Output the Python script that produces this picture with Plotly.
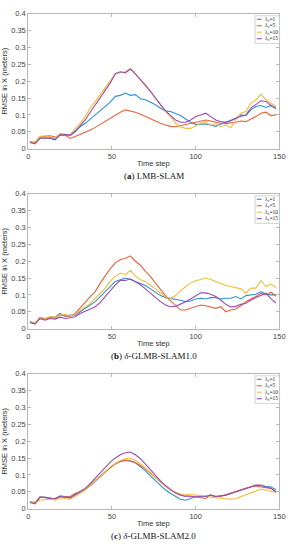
import plotly.graph_objects as go

steps = [1, 4, 7, 10, 13, 16, 19, 22, 25, 28, 31, 34, 37, 40, 43, 46, 49, 52, 55, 58,
         61, 64, 67, 70, 73, 76, 79, 82, 85, 88, 91, 94, 97, 100, 103, 106, 109, 112, 115, 118,
         121, 124, 127, 130, 133, 136, 139, 142, 145, 148]

labels = ["λ<sub>c</sub>=1", "λ<sub>c</sub>=5", "λ<sub>c</sub>=10", "λ<sub>c</sub>=15"]
colors = ["#2f8fd6", "#e8623a", "#f0bd3c", "#9a4cb0"]

# Panel (a) LMB-SLAM
a_l1 = [0.020, 0.018, 0.032, 0.030, 0.033, 0.028, 0.042, 0.040, 0.038, 0.050, 0.065, 0.075, 0.088, 0.100, 0.112, 0.125, 0.138, 0.155, 0.158, 0.165,
        0.158, 0.160, 0.148, 0.145, 0.138, 0.130, 0.120, 0.112, 0.110, 0.105, 0.098, 0.088, 0.078, 0.072, 0.072, 0.073, 0.070, 0.066, 0.072, 0.078,
        0.082, 0.090, 0.100, 0.098, 0.115, 0.125, 0.128, 0.122, 0.128, 0.118]
a_l5 = [0.020, 0.016, 0.035, 0.036, 0.038, 0.034, 0.040, 0.040, 0.030, 0.036, 0.042, 0.048, 0.055, 0.063, 0.072, 0.082, 0.092, 0.100, 0.108, 0.115,
        0.112, 0.108, 0.102, 0.095, 0.088, 0.082, 0.075, 0.070, 0.066, 0.065, 0.068, 0.072, 0.075, 0.078, 0.080, 0.085, 0.082, 0.078, 0.075, 0.074,
        0.075, 0.078, 0.082, 0.080, 0.088, 0.095, 0.105, 0.108, 0.098, 0.100]
a_l10 = [0.018, 0.020, 0.036, 0.038, 0.035, 0.032, 0.045, 0.042, 0.040, 0.060, 0.075, 0.095, 0.120, 0.140, 0.160, 0.180, 0.200, 0.222, 0.225, 0.228,
         0.238, 0.220, 0.205, 0.190, 0.170, 0.150, 0.130, 0.110, 0.095, 0.075, 0.065, 0.060, 0.060, 0.068, 0.075, 0.080, 0.068, 0.075, 0.065, 0.070,
         0.062, 0.085, 0.105, 0.110, 0.135, 0.145, 0.162, 0.145, 0.135, 0.125]
a_l15 = [0.018, 0.014, 0.030, 0.032, 0.030, 0.026, 0.040, 0.042, 0.040, 0.052, 0.068, 0.085, 0.108, 0.130, 0.150, 0.172, 0.195, 0.222, 0.228, 0.225,
         0.236, 0.222, 0.205, 0.190, 0.170, 0.150, 0.130, 0.112, 0.098, 0.085, 0.078, 0.078, 0.085, 0.095, 0.100, 0.105, 0.095, 0.085, 0.080, 0.078,
         0.082, 0.090, 0.095, 0.100, 0.120, 0.132, 0.142, 0.140, 0.128, 0.120]

# Panel (b) delta-GLMB-SLAM1.0
b_l1 = [0.020, 0.015, 0.033, 0.030, 0.032, 0.034, 0.045, 0.036, 0.040, 0.040, 0.050, 0.060, 0.068, 0.080, 0.095, 0.110, 0.125, 0.140, 0.145, 0.150,
        0.146, 0.140, 0.135, 0.128, 0.118, 0.108, 0.098, 0.092, 0.090, 0.088, 0.084, 0.080, 0.082, 0.088, 0.090, 0.088, 0.092, 0.092, 0.088, 0.090,
        0.090, 0.095, 0.088, 0.098, 0.100, 0.102, 0.110, 0.102, 0.100, 0.100]
b_l5 = [0.020, 0.014, 0.030, 0.028, 0.034, 0.030, 0.040, 0.038, 0.036, 0.045, 0.060, 0.078, 0.095, 0.110, 0.135, 0.158, 0.178, 0.195, 0.205, 0.208,
        0.216, 0.200, 0.188, 0.170, 0.155, 0.135, 0.115, 0.098, 0.082, 0.068, 0.055, 0.055, 0.060, 0.065, 0.070, 0.068, 0.065, 0.060, 0.065, 0.050,
        0.055, 0.058, 0.068, 0.080, 0.088, 0.095, 0.105, 0.100, 0.108, 0.096]
b_l10 = [0.018, 0.016, 0.034, 0.030, 0.036, 0.034, 0.040, 0.042, 0.038, 0.042, 0.055, 0.065, 0.075, 0.090, 0.105, 0.120, 0.140, 0.155, 0.165, 0.160,
         0.173, 0.155, 0.145, 0.140, 0.128, 0.118, 0.105, 0.095, 0.090, 0.098, 0.112, 0.125, 0.135, 0.142, 0.146, 0.150, 0.146, 0.140, 0.135, 0.128,
         0.125, 0.122, 0.118, 0.105, 0.120, 0.120, 0.142, 0.125, 0.132, 0.122]
b_l15 = [0.018, 0.014, 0.030, 0.025, 0.030, 0.028, 0.034, 0.030, 0.032, 0.035, 0.045, 0.052, 0.058, 0.065, 0.078, 0.095, 0.112, 0.130, 0.143, 0.143,
         0.148, 0.140, 0.130, 0.118, 0.105, 0.092, 0.080, 0.070, 0.065, 0.066, 0.072, 0.080, 0.088, 0.098, 0.106, 0.106, 0.102, 0.095, 0.085, 0.072,
         0.064, 0.066, 0.072, 0.075, 0.085, 0.092, 0.098, 0.105, 0.088, 0.076]

# Panel (c) delta-GLMB-SLAM2.0
c_l1 = [0.020, 0.018, 0.035, 0.032, 0.030, 0.030, 0.038, 0.036, 0.034, 0.040, 0.048, 0.057, 0.068, 0.080, 0.094, 0.108, 0.122, 0.132, 0.140, 0.144,
        0.142, 0.136, 0.125, 0.112, 0.097, 0.082, 0.068, 0.055, 0.045, 0.036, 0.028, 0.025, 0.030, 0.035, 0.035, 0.036, 0.040, 0.036, 0.037, 0.040,
        0.045, 0.050, 0.055, 0.060, 0.066, 0.069, 0.068, 0.066, 0.064, 0.056]
c_l5 = [0.020, 0.016, 0.034, 0.033, 0.032, 0.028, 0.035, 0.034, 0.036, 0.045, 0.050, 0.058, 0.070, 0.083, 0.097, 0.110, 0.123, 0.134, 0.140, 0.143,
        0.141, 0.136, 0.128, 0.118, 0.105, 0.092, 0.078, 0.066, 0.055, 0.047, 0.042, 0.040, 0.038, 0.035, 0.034, 0.030, 0.040, 0.036, 0.037, 0.040,
        0.046, 0.050, 0.055, 0.060, 0.065, 0.067, 0.064, 0.062, 0.060, 0.050]
c_l10 = [0.018, 0.020, 0.025, 0.026, 0.028, 0.025, 0.032, 0.030, 0.028, 0.036, 0.045, 0.055, 0.068, 0.082, 0.096, 0.110, 0.124, 0.134, 0.143, 0.148,
         0.150, 0.143, 0.133, 0.120, 0.106, 0.092, 0.078, 0.066, 0.056, 0.048, 0.042, 0.040, 0.042, 0.040, 0.040, 0.038, 0.034, 0.032, 0.030, 0.030,
         0.028, 0.030, 0.035, 0.040, 0.046, 0.052, 0.058, 0.055, 0.052, 0.048]
c_l15 = [0.018, 0.014, 0.033, 0.034, 0.030, 0.030, 0.036, 0.034, 0.032, 0.042, 0.050, 0.060, 0.074, 0.090, 0.106, 0.122, 0.138, 0.150, 0.160, 0.166,
         0.168, 0.160, 0.148, 0.132, 0.115, 0.098, 0.082, 0.068, 0.056, 0.046, 0.040, 0.036, 0.035, 0.035, 0.034, 0.036, 0.040, 0.036, 0.038, 0.040,
         0.045, 0.050, 0.055, 0.060, 0.067, 0.070, 0.070, 0.066, 0.060, 0.050]

y_ticks = [0, 0.05, 0.1, 0.15, 0.2, 0.25, 0.3, 0.35, 0.4]
y_tick_text = ["0", "0.05", "0.1", "0.15", "0.2", "0.25", "0.3", "0.35", "0.4"]
x_ticks = [0, 50, 100, 150]

captions = ["(<b>a</b>) LMB-SLAM",
            "(<b>b</b>) <i>δ</i>-GLMB-SLAM1.0",
            "(<b>c</b>) <i>δ</i>-GLMB-SLAM2.0"]

panels = [[a_l1, a_l5, a_l10, a_l15], [b_l1, b_l5, b_l10, b_l15], [c_l1, c_l5, c_l10, c_l15]]

H = 550.0
# plot-area pixel rows (top, bottom) per panel
rows = [(10, 147), (193, 330), (376, 513)]
x_dom = [27 / 298, 285 / 298]

fig = go.Figure()
shapes = []
annotations = []
sans = "Liberation Sans, Arial, sans-serif"
serif = "Liberation Serif, Times New Roman, serif"
axis_col = "#b8b8b8"
tick_col = "#444444"

for i, series in enumerate(panels):
    ax = "" if i == 0 else str(i + 1)
    xname, yname = "x" + ax, "y" + ax
    for s, lab, col in zip(series, labels, colors):
        fig.add_trace(go.Scatter(x=steps, y=s, mode="lines", name=lab,
                                 line=dict(color=col, width=1.1),
                                 xaxis=xname, yaxis=yname, showlegend=False))
    top, bot = rows[i]
    ydom = [(H - bot) / H, (H - top) / H]
    common = dict(showgrid=False, zeroline=False, showline=True, mirror="ticks",
                  linecolor=axis_col, linewidth=1, ticks="inside", ticklen=3,
                  tickcolor=axis_col, ticklabeloverflow="allow",
                  tickfont=dict(family=sans, size=7.5, color=tick_col))
    fig.update_layout(**{
        "xaxis" + ax: dict(domain=x_dom, range=[0, 150], tickvals=x_ticks, anchor=yname,
                           **common),
        "yaxis" + ax: dict(domain=ydom, range=[0, 0.4], tickvals=y_ticks, ticktext=y_tick_text,
                           anchor=xname,
                           title=dict(text="RMSE in X (meters)", font=dict(family=sans, size=7.5, color="#333"),
                                      standoff=3), **common),
    })
    # x-axis title
    annotations.append(dict(text="Time step", xref="paper", yref="paper",
                            x=156 / 298, y=1 - (bot + 15) / H, showarrow=False,
                            xanchor="center", yanchor="middle",
                            font=dict(family=sans, size=7.5, color="#333")))
    # caption
    annotations.append(dict(text=captions[i], xref="paper", yref="paper",
                            x=156 / 298, y=1 - (bot + 27.5) / H, showarrow=False,
                            xanchor="center", yanchor="middle",
                            font=dict(family=serif, size=9, color="#111")))
    # legend box
    xd = xname + " domain"
    yd = yname + " domain"
    ph = bot - top
    shapes.append(dict(type="rect", xref=xd, yref=yd, x0=0.903, x1=1.0,
                       y0=1 - 30 / ph, y1=1 - 2 / ph,
                       line=dict(color="#c8c8c8", width=0.8), fillcolor="white", layer="above"))
    for k, (lab, col) in enumerate(zip(labels, colors)):
        yy = 1 - (5.5 + 6.6 * k) / ph
        shapes.append(dict(type="line", xref=xd, yref=yd, x0=0.910, x1=0.930, y0=yy, y1=yy,
                           line=dict(color=col, width=1.1), layer="above"))
        annotations.append(dict(text=lab, xref=xd, yref=yd, x=0.933, y=yy, showarrow=False,
                                xanchor="left", yanchor="middle",
                                font=dict(family=serif, size=5.5, color="#222")))

fig.update_layout(width=298, height=550, margin=dict(l=0, r=0, t=0, b=0),
                  plot_bgcolor="white", paper_bgcolor="white",
                  shapes=shapes, annotations=annotations, showlegend=False)

fig.write_html("out.html", config={"displayModeBar": False},
               post_script="document.body.style.margin='0';document.body.style.overflow='hidden';")
